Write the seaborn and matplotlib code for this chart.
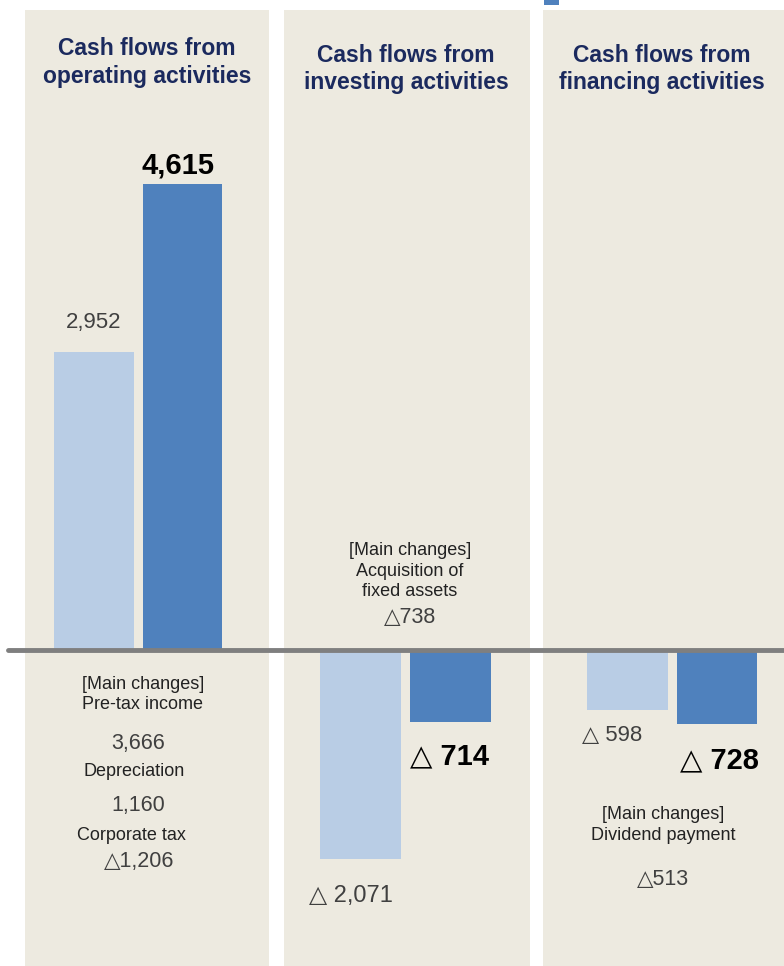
import matplotlib
matplotlib.use("Agg")
import matplotlib.pyplot as plt
import matplotlib.transforms as mtransforms
from matplotlib.lines import Line2D
from matplotlib.patches import Rectangle
import seaborn as sns
import pandas as pd

sns.set_theme(style="white")
plt.rcParams['font.family'] = ['Liberation Sans', 'DejaVu Sans']

# ---- data ----
panels = ["Cash flows from\noperating activities",
          "Cash flows from\ninvesting activities",
          "Cash flows from\nfinancing activities"]
periods = ["Previous", "Current"]
prev_values = [2952, -2071, -598]
curr_values = [4615, -714, -728]
prev_labels = ["2,952", "△ 2,071", "△ 598"]
curr_labels = ["4,615", "△ 714", "△ 728"]
op_changes = ["[Main changes]\nPre-tax income", "3,666", "Depreciation", "1,160", "Corporate tax", "△1,206"]
inv_changes = ["[Main changes]\nAcquisition of\nfixed assets", "△738"]
fin_changes = ["[Main changes]\nDividend payment", "△513"]

LIGHT = "#B9CDE5"
DARK = "#4F81BD"
BG = "#EDEAE0"
NAVY = "#1B2A5E"
GRAY = "#404040"

W, H = 784, 966
fig = plt.figure(figsize=(W / 100, H / 100), dpi=100)
fig.patch.set_facecolor("white")

# y scale: zero at 650px from top, 4615 -> 466 px
scale = 466 / 4615.0
ytop = (650 - 10) / scale
ybot = -(H - 650) / scale

# axes placement in pixels (left, right) and bar centres
panel_px = [(25, 269, 94, 182.5), (284, 530, 360, 450), (543, 784, 627.5, 717)]
axes = []
for i, (l, r, c0, c1) in enumerate(panel_px):
    ax = fig.add_axes([l / W, 0, (r - l) / W, (H - 10) / H])
    ax.set_facecolor(BG)
    df = pd.DataFrame({"period": periods, "value": [prev_values[i], curr_values[i]]})
    sns.barplot(data=df, x="period", y="value", hue="period", palette=[LIGHT, DARK],
                saturation=1, width=0.9, legend=False, ax=ax, linewidth=0)
    sp = c1 - c0
    ax.set_xlim(-(c0 - l) / sp, 1 + (r - c1) / sp)
    ax.set_ylim(ybot, ytop)
    ax.set_xticks([]); ax.set_yticks([])
    ax.set_xlabel(""); ax.set_ylabel("")
    for s in ax.spines.values():
        s.set_visible(False)
    axes.append(ax)

def px2y(py):
    return (650 - py) / scale

def note(ax, cx_px, i, py, txt, size=13, color="#222222", weight="normal", ls=1.3):
    l, r = panel_px[i][0], panel_px[i][1]
    tr = mtransforms.blended_transform_factory(ax.transAxes, ax.transData)
    ax.text((cx_px - l) / (r - l), px2y(py), txt, transform=tr, ha="center", va="center",
            fontsize=size, color=color, fontweight=weight, linespacing=ls)

# titles
title_cx = [147, 406, 662]
title_cy = [62.5, 69, 69]
for i, ax in enumerate(axes):
    note(ax, title_cx[i], i, title_cy[i], panels[i], size=16.5, color=NAVY, weight="bold", ls=1.25)

# value labels
ax1, ax2, ax3 = axes
ax1.text(0, prev_values[0] + 290, prev_labels[0], ha="center", va="center", fontsize=16, color=GRAY)
ax1.text(0.95, curr_values[0] + 180, curr_labels[0], ha="center", va="center", fontsize=21, fontweight="bold", color="black")

ax2.text(-0.1, prev_values[1] - 370, prev_labels[1], ha="center", va="center", fontsize=17, color=GRAY)
ax2.text(1, curr_values[1] - 340, curr_labels[1], ha="center", va="center", fontsize=21, fontweight="bold", color="black")

ax3.text(-0.17, prev_values[2] - 250, prev_labels[2], ha="center", va="center", fontsize=16, color=GRAY)
ax3.text(1.03, curr_values[2] - 370, curr_labels[2], ha="center", va="center", fontsize=21, fontweight="bold", color="black")

# main change notes
note(ax1, 143, 0, 694.5, op_changes[0])
note(ax1, 138, 0, 743, op_changes[1], size=15.5, color=GRAY)
note(ax1, 134, 0, 772, op_changes[2])
note(ax1, 138, 0, 806, op_changes[3], size=15.5, color=GRAY)
note(ax1, 131, 0, 835, op_changes[4])
note(ax1, 139, 0, 862, op_changes[5], size=15.5, color=GRAY)

note(ax2, 410, 1, 571, inv_changes[0])
note(ax2, 410, 1, 618, inv_changes[1], size=15.5, color=GRAY)

note(ax3, 663, 2, 825, fin_changes[0])
note(ax3, 663, 2, 880, fin_changes[1], size=15.5, color=GRAY)

# zero baseline spanning the figure
tr = mtransforms.blended_transform_factory(fig.transFigure, ax1.transData)
fig.add_artist(Line2D([8 / W, 1.0], [0, 0], transform=tr, color="#7F7F7F", linewidth=3.5, zorder=10))

# legend fragment at the top
fig.add_artist(Rectangle((544 / W, 1 - 5 / H), 15 / W, 5 / H, transform=fig.transFigure,
                         facecolor=DARK, edgecolor="none"))

fig.savefig("out.png", dpi=100, facecolor="white")
